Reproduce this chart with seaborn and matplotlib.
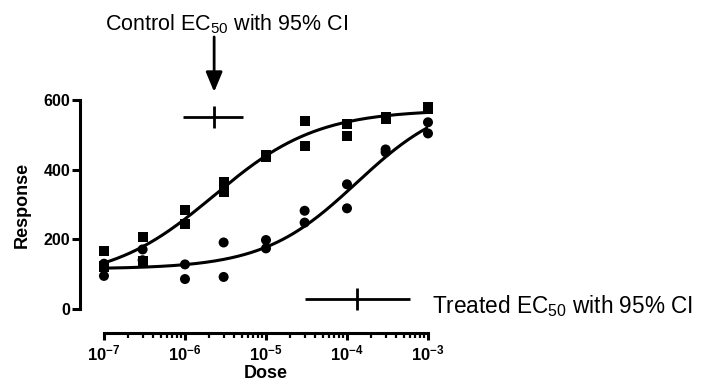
import numpy as np
import pandas as pd
import seaborn as sns
import matplotlib.pyplot as plt
from matplotlib.ticker import LogLocator, NullFormatter

# replicate doses (two readings per dose)
dose = [1e-7, 1e-7, 3e-7, 3e-7, 1e-6, 1e-6, 3e-6, 3e-6, 1e-5, 1e-5,
        3e-5, 3e-5, 1e-4, 1e-4, 3e-4, 3e-4, 1e-3, 1e-3]
control = [167, 122, 208, 138, 284, 244, 365, 337, 442, 436,
           540, 468, 530, 497, 552, 545, 581, 574]
treated = [130, 95, 171, 140, 128, 86, 191, 92, 198, 174,
           282, 248, 358, 289, 458, 450, 536, 504]

# fitted 4PL parameters: bottom, top, logEC50, hill
control_fit = (80, 572, -5.64, 0.68)
treated_fit = (115, 610, -3.88, 0.75)

# EC50 with 95% CI (log10 dose): low, best, high ; y position of the marker
control_ci = (-6.02, -5.64, -5.28)
treated_ci = (-4.52, -3.88, -3.22)
control_ci_y = 551
treated_ci_y = 29

sns.set_theme(style="ticks")
plt.rcParams["font.family"] = ["Liberation Sans", "DejaVu Sans"]
plt.rcParams["font.weight"] = "bold"
plt.rcParams["mathtext.fontset"] = "custom"
plt.rcParams["mathtext.rm"] = "Liberation Sans"
plt.rcParams["mathtext.default"] = "regular"
for key in ["text.color", "axes.labelcolor", "xtick.color", "ytick.color", "axes.edgecolor"]:
    plt.rcParams[key] = "black"

pts = pd.DataFrame({
    "Dose": dose * 2,
    "Response": control + treated,
    "Group": ["Control"] * len(control) + ["Treated"] * len(treated),
})


def four_pl(x, p):
    bottom, top, logec, hill = p
    return bottom + (top - bottom) / (1 + 10 ** ((logec - np.log10(x)) * hill))


xs = np.logspace(-7, -3, 300)
curves = pd.DataFrame({
    "Dose": np.concatenate([xs, xs]),
    "Response": np.concatenate([four_pl(xs, control_fit), four_pl(xs, treated_fit)]),
    "Group": ["Control"] * len(xs) + ["Treated"] * len(xs),
})

fig = plt.figure(figsize=(7.03, 3.85), dpi=100)
ax = fig.add_axes([0.1479, 0.1974, 0.4609, 0.5429])

sns.lineplot(data=curves, x="Dose", y="Response", units="Group", estimator=None,
             color="black", lw=2.2, ax=ax, legend=False)
sns.scatterplot(data=pts, x="Dose", y="Response", style="Group",
                markers={"Control": "s", "Treated": "o"}, color="black",
                s=52, edgecolor="none", ax=ax, legend=False, clip_on=False, zorder=5)

ax.set_xscale("log")
ax.set_xlim(1e-7, 1e-3)
ax.set_ylim(0, 600)
ax.set_yticks([0, 200, 400, 600])
ax.xaxis.set_minor_locator(LogLocator(base=10, subs=np.arange(2, 10)))
ax.xaxis.set_minor_formatter(NullFormatter())

# EC50 markers with CI
for ci, yy in [(control_ci, control_ci_y), (treated_ci, treated_ci_y)]:
    lo, mid, hi = 10 ** ci[0], 10 ** ci[1], 10 ** ci[2]
    ax.errorbar([mid], [yy], xerr=[[mid - lo], [hi - mid]], fmt="|", color="black",
                ms=16, mew=2, elinewidth=2, capsize=0, clip_on=False)

# annotations
ax.text(10 ** -5.49, 801, "Control EC$_{50}$ with 95% CI", ha="center", va="baseline",
        fontsize=15.5, fontweight="normal", clip_on=False)
ax.annotate("", xy=(10 ** control_ci[1], 623), xytext=(10 ** control_ci[1], 781),
            xycoords="data", annotation_clip=False,
            arrowprops=dict(arrowstyle="-|>,head_length=1.2,head_width=0.5",
                            color="black", lw=2, mutation_scale=10, shrinkA=0, shrinkB=0))
ax.text(10 ** -2.95, -12, "Treated EC$_{50}$ with 95% CI", ha="left", va="baseline",
        fontsize=16.3, fontweight="normal", clip_on=False)

# axes styling
for side in ["left", "bottom"]:
    ax.spines[side].set_position(("outward", 17.3))
    ax.spines[side].set_linewidth(2.2)
sns.despine(ax=ax)
ax.tick_params(axis="y", which="major", length=6, width=2.2, labelsize=11.5, pad=1)
ax.tick_params(axis="x", which="major", length=5, width=2.2, labelsize=12, pad=2.5)
ax.tick_params(axis="x", which="minor", length=3.5, width=1.6)

ax.set_xlabel("Dose", fontsize=13, fontweight="bold", labelpad=1.5)
ax.set_ylabel("Response", fontsize=13, fontweight="bold", labelpad=9)

fig.savefig("out.png", dpi=100)
